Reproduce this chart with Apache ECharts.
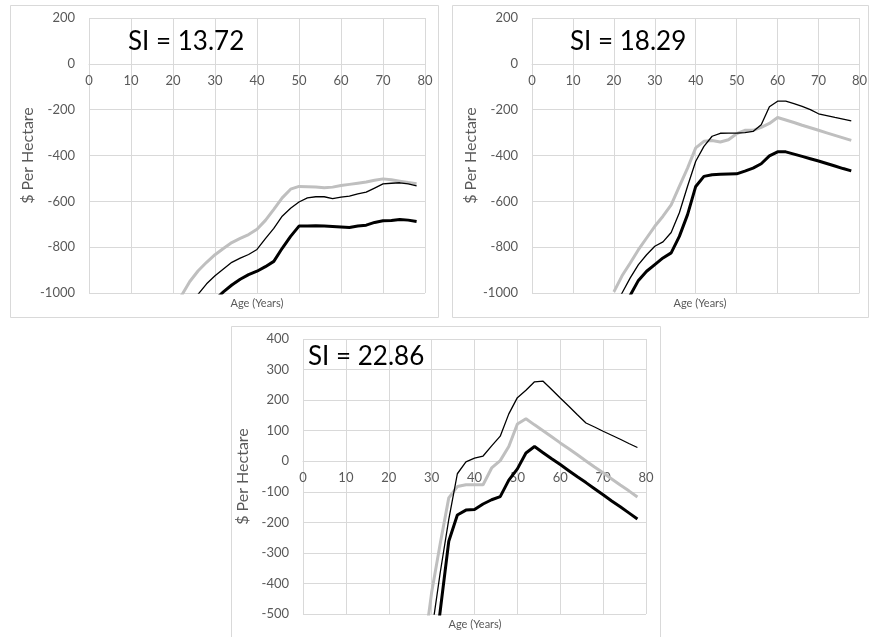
<!DOCTYPE html>
<html>
<head>
<meta charset="utf-8">
<script src="https://cdn.jsdelivr.net/npm/echarts@6/dist/echarts.min.js"></script>
<style>
  html, body { margin: 0; padding: 0; background: #fff; }
  #chart { width: 870px; height: 637px; }
</style>
</head>
<body>
<div id="chart"></div>
<script>
// Stand age (years), shared by all three panels
const ages = [20, 22, 24, 26, 28, 30, 32, 34, 36, 38, 40, 42, 44, 46, 48,
              50, 52, 54, 56, 58, 60, 62, 64, 66, 68, 70, 72, 74, 76, 78];

// Panel 1: SI = 13.72
const si1Gray  = [-1060, -1012, -950, -903, -866, -833, -806, -780, -762, -745, -722, -683, -635, -585, -547,
                  -535, -536, -537, -541, -538, -531, -526, -521, -516, -508, -502, -506, -512, -518, -523];
const si1Thin  = [null, null, -1060, -1005, -960, -925, -895, -866, -848, -832, -810, -763, -718, -665, -630,
                  -603, -585, -580, -580, -588, -582, -577, -567, -560, -542, -524, -521, -519, -524, -533];
const si1Thick = [null, null, null, null, -1080, -1030, -995, -965, -940, -920, -905, -885, -862, -805, -753,
                  -708, -708, -707, -708, -710, -712, -714, -708, -704, -692, -685, -684, -679, -682, -688];

// Panel 2: SI = 18.29
const si2Gray  = [-995, -925, -869, -811, -760, -709, -665, -615, -535, -455, -367, -338, -335, -341, -331,
                  -305, -290, -290, -277, -260, -234, -245, -256, -268, -279, -290, -301, -312, -323, -334];
const si2Thin  = [-1070, -1000, -934, -876, -833, -796, -777, -736, -650, -534, -425, -360, -316, -303, -302,
                  -302, -300, -295, -266, -187, -163, -163, -174, -186, -200, -218, -226, -234, -241, -249];
const si2Thick = [null, -1070, -1010, -945, -905, -876, -847, -825, -753, -658, -535, -491, -484, -482, -481,
                  -480, -468, -455, -436, -402, -384, -384, -394, -404, -414, -424, -435, -446, -457, -467];

// Panel 3: SI = 22.86
const si3Gray  = [null, null, null, null, -640, -430, -270, -120, -83, -77, -77, -77, -22, 2, 48,
                  122, 139, 119, 100, 80, 60, 41, 21, 1, -19, -38, -58, -78, -97, -117];
const si3Thin  = [null, null, null, null, -800, -560, -365, -190, -41, -2, 10, 17, 50, 82, 155,
                  208, 232, 260, 262, 235, 207, 180, 152, 125, 112, 98, 85, 72, 58, 45];
const si3Thick = [null, null, null, null, null, -720, -490, -262, -176, -160, -158, -140, -126, -116, -62,
                  -25, 27, 48, 28, 8, -11, -31, -51, -70, -90, -110, -130, -149, -169, -189];

const panelLabels = ['SI = 13.72', 'SI = 18.29', 'SI = 22.86'];
const xTitle = 'Age (Years)';
const yTitle = '$ Per Hectare';

// y ranges of the three panels: [min, max, interval]
const yRanges = [[-1000, 200, 200], [-1000, 200, 200], [-500, 400, 100]];

const FONT = 'Lato, "Open Sans", sans-serif';
const GRID_COLOR = '#d9d9d9';
const LABEL_COLOR = '#595959';
const PLOT_H = 275;

function pairs(vals) {
  return ages.map((a, i) => [a, vals[i]]).filter(p => p[1] !== null);
}

// x axis drawn across the zero line (Excel style): shift it up from the bottom
function xAxisFor(gridIndex) {
  const r = yRanges[gridIndex];
  const shift = PLOT_H * (0 - r[0]) / (r[1] - r[0]);
  return {
    gridIndex: gridIndex,
    type: 'value',
    position: 'bottom',
    offset: -shift,
    min: 0,
    max: 80,
    interval: 10,
    axisLine: { onZero: false, lineStyle: { color: GRID_COLOR, width: 1 } },
    axisTick: { show: false },
    axisLabel: { color: LABEL_COLOR, fontSize: 13, fontFamily: FONT, margin: 10,
                 alignMinLabel: 'center', alignMaxLabel: 'center' },
    splitLine: { show: true, lineStyle: { color: GRID_COLOR, width: 1 } }
  };
}

function yAxisFor(gridIndex) {
  const r = yRanges[gridIndex];
  return {
    gridIndex: gridIndex,
    type: 'value',
    min: r[0],
    max: r[1],
    interval: r[2],
    name: yTitle,
    nameLocation: 'middle',
    nameRotate: 90,
    nameGap: 52,
    nameTextStyle: { color: LABEL_COLOR, fontSize: 16, fontFamily: FONT },
    axisLine: { show: false, onZero: false },
    axisTick: { show: false },
    axisLabel: { color: LABEL_COLOR, fontSize: 13, fontFamily: FONT, margin: 14,
                 formatter: v => String(v) },
    splitLine: { show: true, lineStyle: { color: GRID_COLOR, width: 1 } }
  };
}

function seriesFor(idx, gray, thin, thick) {
  const base = { type: 'line', xAxisIndex: idx, yAxisIndex: idx, showSymbol: false, symbol: 'none', clip: true };
  return [
    Object.assign({}, base, { name: 'gray', data: pairs(gray), lineStyle: { color: '#bfbfbf', width: 3 } }),
    Object.assign({}, base, { name: 'thick', data: pairs(thick), lineStyle: { color: '#000000', width: 3 } }),
    Object.assign({}, base, { name: 'thin', data: pairs(thin), lineStyle: { color: '#000000', width: 1.3 } })
  ];
}

function textEl(text, x, y, size, color, align) {
  return {
    type: 'text', x: x, y: y, z: 100,
    style: { text: text, fontSize: size, fontFamily: FONT, fill: color,
             textAlign: align, textVerticalAlign: 'middle' }
  };
}

function borderEl(x, y, w, h) {
  return {
    type: 'rect', z: -10,
    shape: { x: x + 0.5, y: y + 0.5, width: w, height: h },
    style: { fill: 'none', stroke: GRID_COLOR, lineWidth: 1 }
  };
}

const chart = echarts.init(document.getElementById('chart'));

const option = {
  animation: false,
  backgroundColor: '#ffffff',
  grid: [
    { left: 89, top: 18, width: 336, height: PLOT_H },
    { left: 532, top: 18, width: 336, height: PLOT_H },
    { left: 303, top: 339, width: 343, height: PLOT_H }
  ],
  xAxis: [xAxisFor(0), xAxisFor(1), xAxisFor(2)],
  yAxis: [yAxisFor(0), yAxisFor(1), yAxisFor(2)],
  graphic: [
    borderEl(10, 5, 428, 312),
    borderEl(452, 5, 416, 312),
    borderEl(231, 326, 429, 320),
    textEl(panelLabels[0], 128, 42, 26, '#000000', 'left'),
    textEl(panelLabels[1], 570, 42, 26, '#000000', 'left'),
    textEl(panelLabels[2], 308, 357, 26, '#000000', 'left'),
    textEl(xTitle, 257, 303, 11, LABEL_COLOR, 'center'),
    textEl(xTitle, 700, 303, 11, LABEL_COLOR, 'center'),
    textEl(xTitle, 475, 624, 11, LABEL_COLOR, 'center')
  ],
  series: [].concat(
    seriesFor(0, si1Gray, si1Thin, si1Thick),
    seriesFor(1, si2Gray, si2Thin, si2Thick),
    seriesFor(2, si3Gray, si3Thin, si3Thick)
  )
};

chart.setOption(option);
</script>
</body>
</html>
